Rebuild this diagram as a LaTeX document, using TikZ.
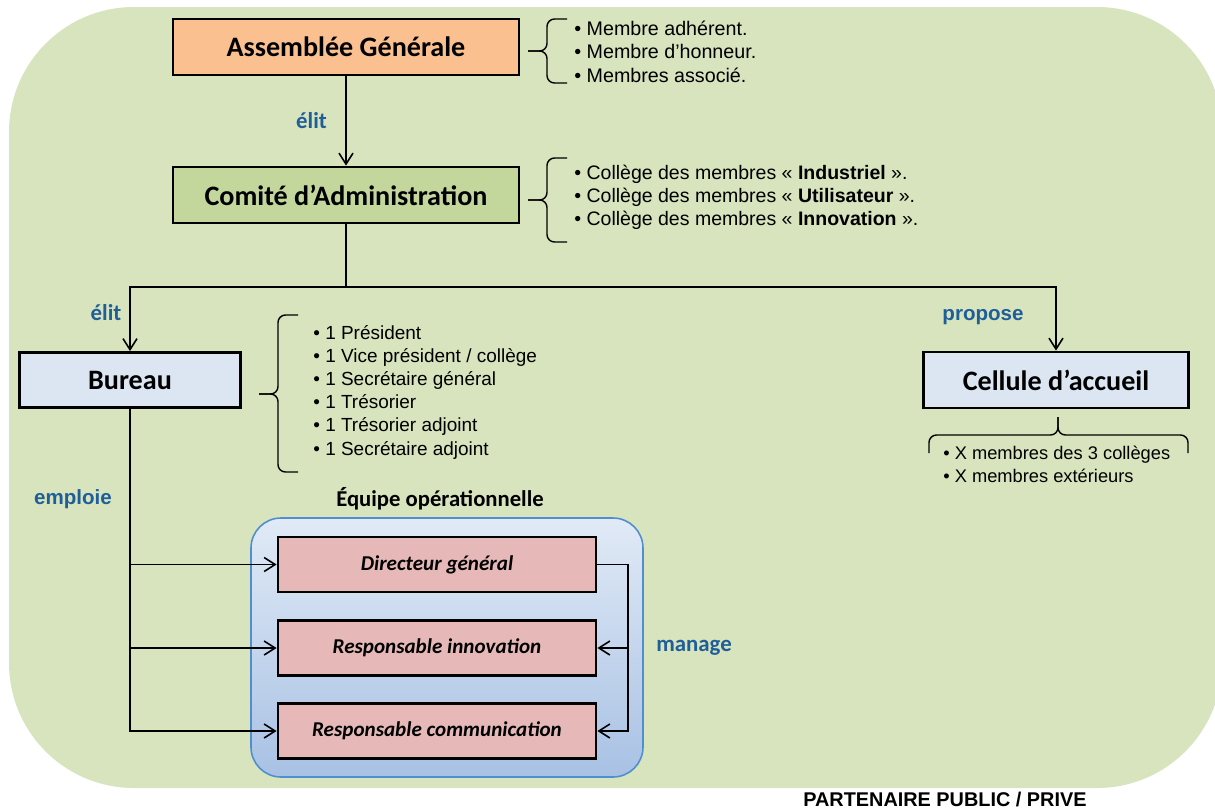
\documentclass[tikz,border=0pt]{standalone}
\usepackage{fontspec}
\setmainfont{Liberation Sans}
\newfontfamily\calibri{Carlito}
\usepackage{tikz}
\usetikzlibrary{arrows.meta,calc,positioning}
\definecolor{bggreen}{RGB}{215,228,189}
\definecolor{agorange}{RGB}{250,192,144}
\definecolor{cagreen}{RGB}{195,214,155}
\definecolor{paleblue}{RGB}{220,230,242}
\definecolor{staffpink}{RGB}{230,185,184}
\definecolor{verbblue}{RGB}{31,95,153}
\definecolor{teamedge}{RGB}{79,143,208}
\definecolor{teamtop}{RGB}{225,234,246}
\definecolor{teambottom}{RGB}{168,193,228}

\begin{document}
\begin{tikzpicture}[x=0.2mm, y=-0.2mm,
    orgbox/.style={draw=black, line width=1.6pt, minimum height=1.12cm, font=\calibri\bfseries\fontsize{16}{19}\selectfont},
    staffbox/.style={draw=black, line width=1.6pt, fill=staffpink, minimum width=6.36cm, minimum height=1.1cm, font=\calibri\bfseries\itshape\fontsize{12}{14}\selectfont},
    verb/.style={text=verbblue, font=\calibri\bfseries\fontsize{13}{15}\selectfont},
    members/.style={align=left, anchor=west, inner sep=0pt},
    link/.style={line width=0.9pt, -{Straight Barb[length=2.2mm,width=2.8mm]}},
    curly/.style={line width=0.8pt, rounded corners=1.5mm}
  ]
  \useasboundingbox (0,0) rectangle (1215,810);
  \fill[bggreen, rounded corners=2.5cm] (9,7) rectangle (1222,788);

  % Conseil
  \node[orgbox, fill=agorange, minimum width=6.92cm] (ag) at (346,47) {Assemblée Générale};
  \node[orgbox, fill=cagreen, minimum width=6.92cm] (ca) at (346,195) {Comité d’Administration};
  \node[orgbox, fill=paleblue, minimum width=4.42cm, minimum height=1.1cm] (bur) at (130,380) {Bureau};
  \node[orgbox, fill=paleblue, minimum width=5.3cm] (cel) at (1056,380) {Cellule d’accueil};

  % listes
  \draw[curly] (567,19) -- (547,19) -- (547,51) -- (528,51);
  \draw[curly] (567,83) -- (547,83) -- (547,51) -- (528,51);
  \node[members, font=\fontsize{11.2}{13.3}\selectfont] (agList) at (574,51.5) {• Membre adhérent.\\• Membre d’honneur.\\• Membres associé.};
  \draw[curly] (567,158) -- (547,158) -- (547,200) -- (528,200);
  \draw[curly] (567,242) -- (547,242) -- (547,200) -- (528,200);
  \node[members, font=\fontsize{11.1}{12.9}\selectfont] (caList) at (574,197.5) {• Collège des membres «~\textbf{Industriel}~».\\• Collège des membres «~\textbf{Utilisateur}~».\\• Collège des membres «~\textbf{Innovation}~».};
  \draw[curly] (298,315) -- (278,315) -- (278,394) -- (259,394);
  \draw[curly] (298,472) -- (278,472) -- (278,394) -- (259,394);
  \node[members, font=\fontsize{10.8}{13.2}\selectfont] (burList) at (313,392) {• 1 Président\\• 1 Vice président / collège\\• 1 Secrétaire général\\• 1 Trésorier\\• 1 Trésorier adjoint\\• 1 Secrétaire adjoint};
  \draw[curly] (929,453) -- (929,435) -- (1058,435) -- (1058,417);
  \draw[curly] (1188,453) -- (1188,435) -- (1058,435) -- (1058,417);
  \node[members, font=\fontsize{10.4}{13}\selectfont] (celList) at (943,464.5) {• X membres des 3 collèges\\• X membres extérieurs};

  % equipe
  \node[draw=teamedge, line width=0.9pt, rounded corners=0.6cm, top color=teamtop, bottom color=teambottom, minimum width=7.84cm, minimum height=5.18cm] (team) at (447,647.5) {};
  \node[font=\calibri\bfseries\fontsize{12.9}{15}\selectfont] (teamLabel) at (440,499) {Équipe opérationnelle};
  \node[staffbox] (dg) at (437,564.5) {Directeur général};
  \node[staffbox] (ri) at (437,648) {Responsable innovation};
  \node[staffbox] (rc) at (437,731) {Responsable communication};

  % liens
  \coordinate (split) at (346,287);
  \coordinate (mg) at (628,564.5);
  \draw[link] (ag) -- node[verb, left=0.25cm] (v1) {élit} (ca);
  \draw[line width=0.9pt] (ca) -- (split);
  \draw[link] (split) -| (bur);
  \draw[link] (split) -| (cel);
  \draw[link] (bur) |- (rc);
  \draw[link] (bur.south |- dg.west) -- (dg);
  \draw[link] (bur.south |- ri.west) -- (ri);
  \draw[link] (dg) -- (mg) |- (rc);
  \draw[link] (mg |- ri.east) -- (ri);

  \node[verb] (v2) at (106,313) {élit};
  \node[verb, font=\bfseries\fontsize{11.7}{14}\selectfont] (v3) at (983,317) {propose};
  \node[verb, font=\bfseries\fontsize{11.7}{14}\selectfont] (v4) at (73,499) {emploie};
  \node[verb] (v5) at (694,648) {manage};

  \node[font=\bfseries\fontsize{11.3}{13}\selectfont, anchor=west, inner sep=0pt] (pp) at (803,799) {PARTENAIRE PUBLIC / PRIVE};
\end{tikzpicture}
\end{document}
